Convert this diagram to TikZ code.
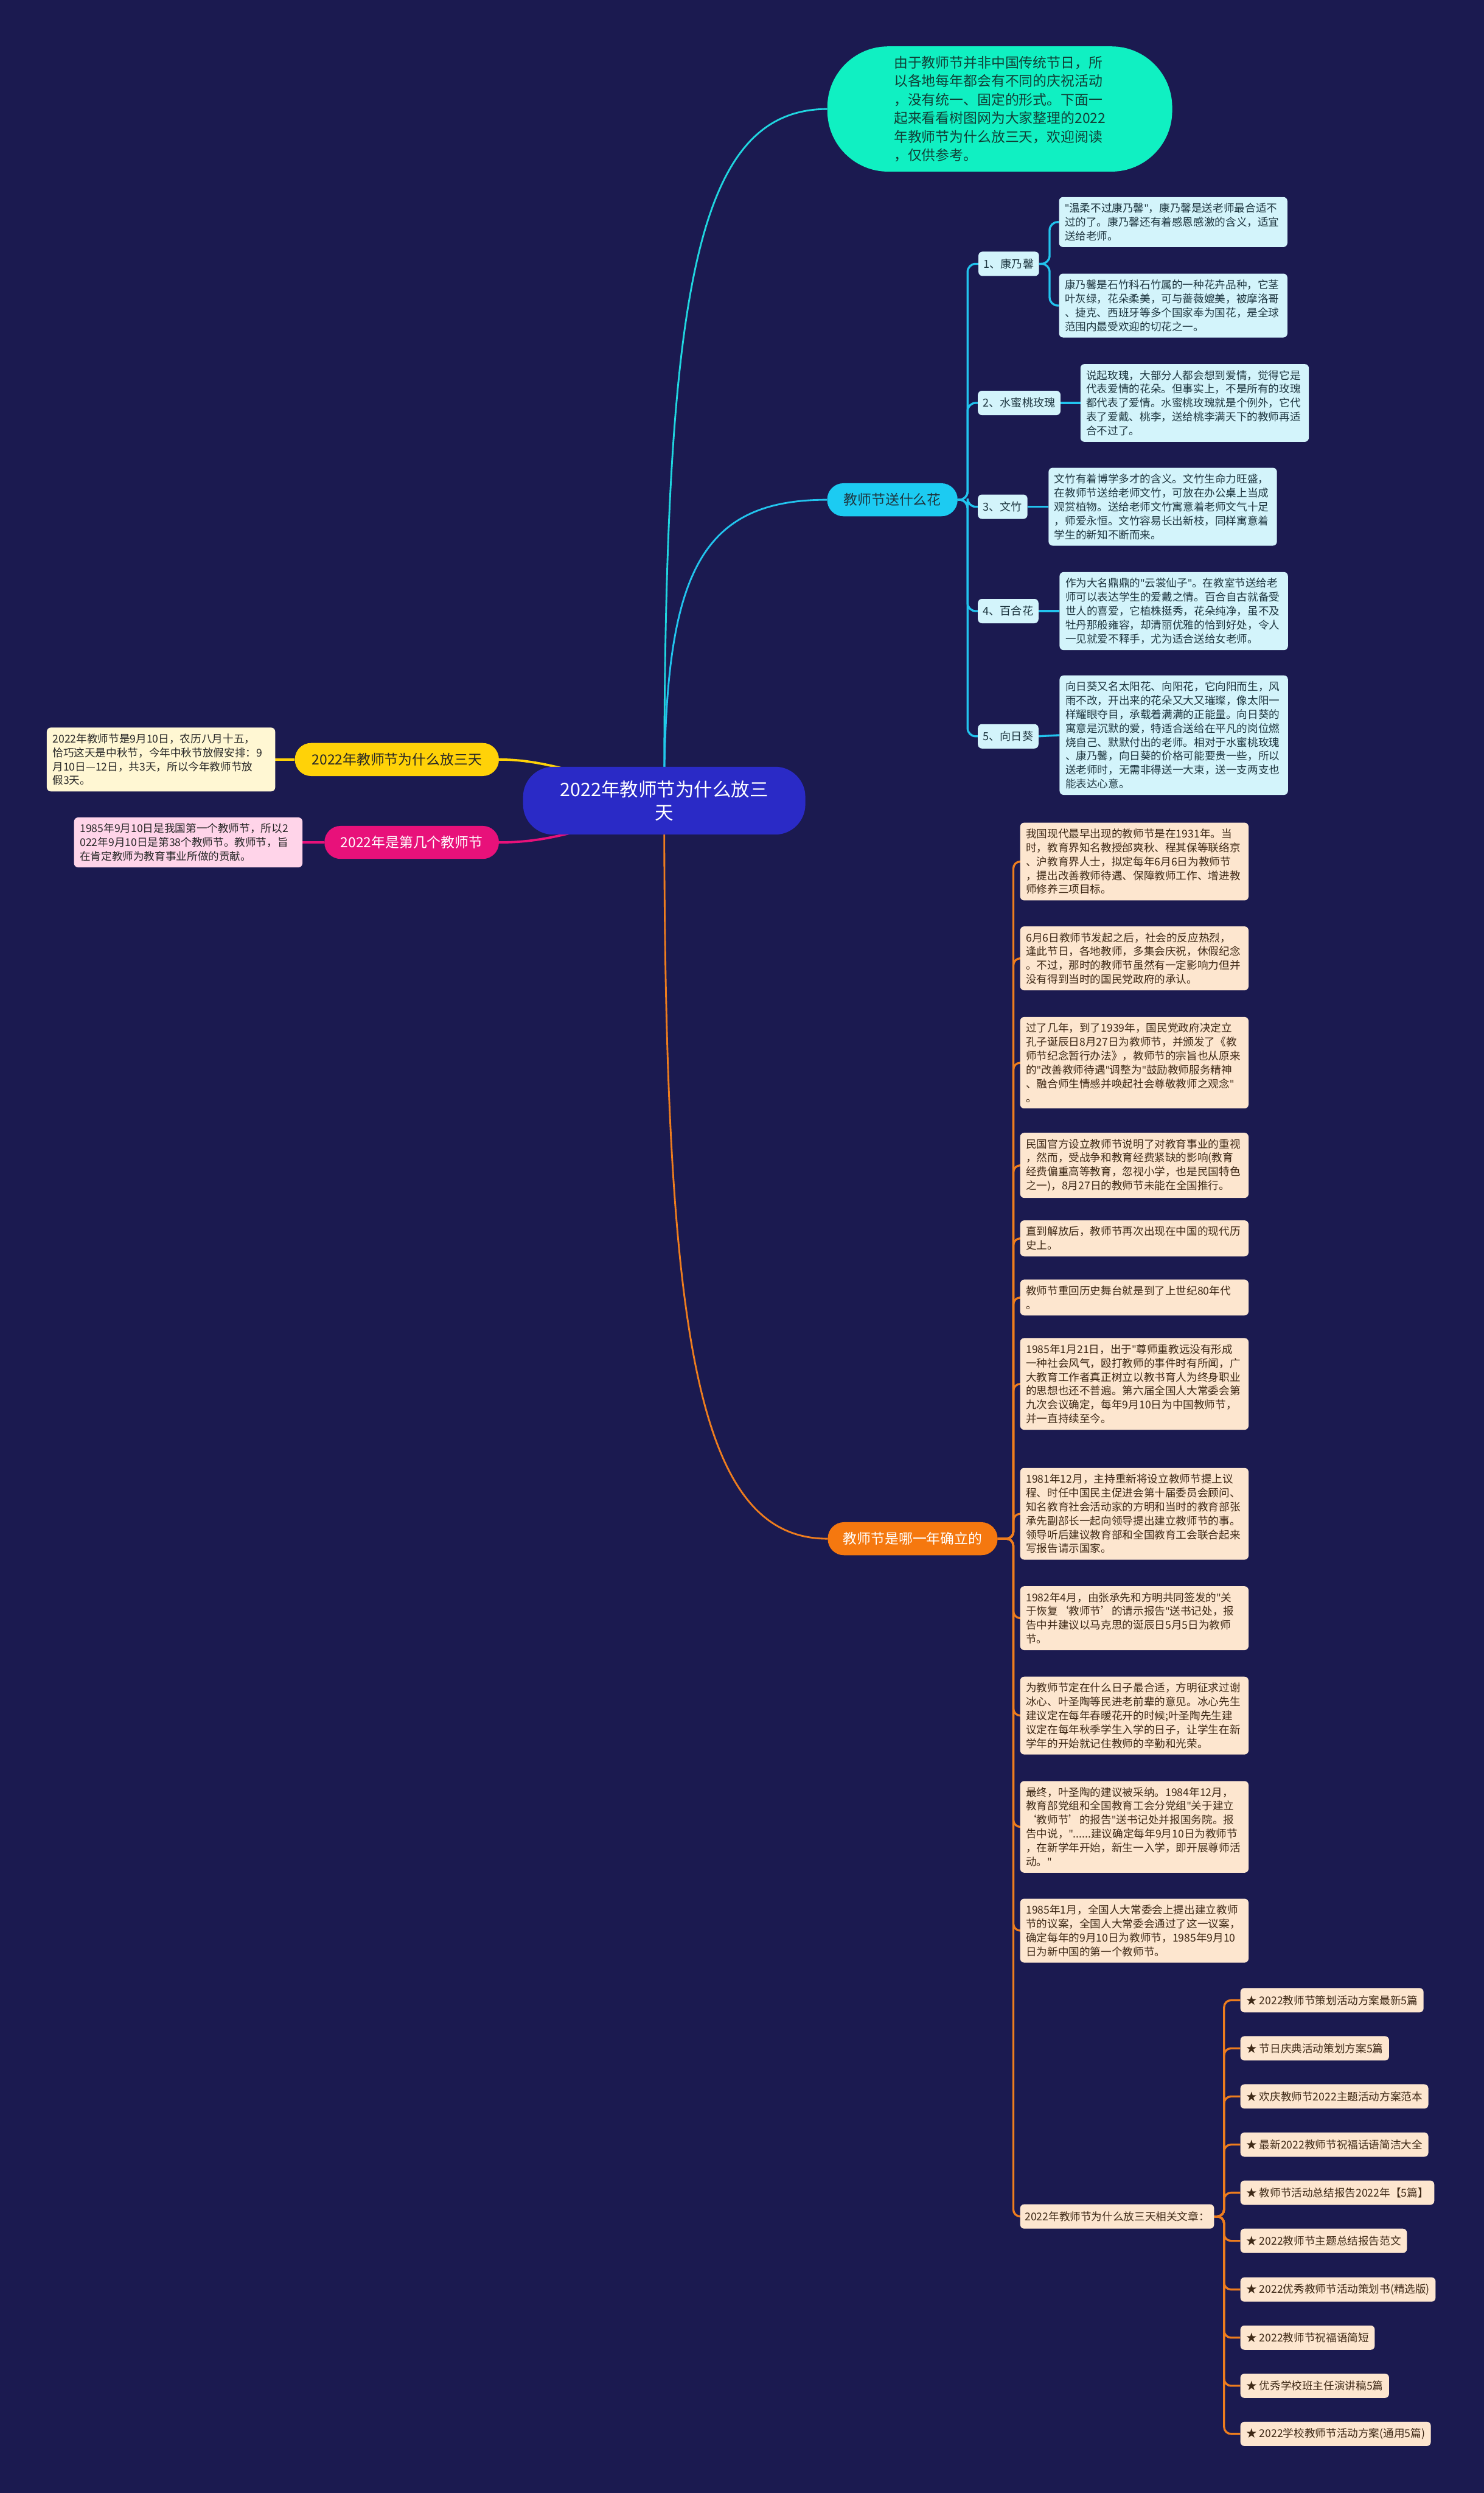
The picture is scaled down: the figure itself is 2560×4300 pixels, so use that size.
\documentclass[tikz,border=0pt]{standalone}
\usepackage{fontspec}
\setmainfont{Noto Sans CJK SC}
\newfontfamily\latf{Noto Sans}
\newcommand\qq{{\latf"}}
\pgfdeclarelayer{back}
\pgfdeclarelayer{edges}
\pgfsetlayers{back,edges,main}
\definecolor{bgc}{HTML}{1B1A50}
\definecolor{rootc}{HTML}{2A2AC6}
\definecolor{bubblec}{HTML}{10F0C2}
\definecolor{bubtext}{HTML}{103F36}
\definecolor{cbrc}{HTML}{1CCBF2}
\definecolor{clinec}{HTML}{22C4EE}
\definecolor{tlinec}{HTML}{20D6E0}
\definecolor{cnotec}{HTML}{D3F4FB}
\definecolor{ctextc}{HTML}{1E3640}
\definecolor{ybrc}{HTML}{FFD208}
\definecolor{ynotec}{HTML}{FFF7D3}
\definecolor{pbrc}{HTML}{E8117A}
\definecolor{pnotec}{HTML}{FFD4E9}
\definecolor{obrc}{HTML}{F5780F}
\definecolor{olinec}{HTML}{EE7D1E}
\definecolor{peachc}{HTML}{FDE6CF}
\definecolor{ptextc}{HTML}{3D2815}
\begin{document}
\begin{tikzpicture}[x=1pt,y=-1pt,
  notebase/.style={rounded corners=7pt, align=left, text width=374pt,
    inner xsep=10pt, inner ysep=10.5pt, font=\fontsize{18.5}{24}\selectfont, anchor=west},
  cnote/.style={notebase, fill=cnotec, text=ctextc},
  pnote/.style={notebase, fill=peachc, text=ptextc},
  ynote/.style={notebase, fill=ynotec, text=black!85},
  pknote/.style={notebase, fill=pnotec, text=black!85},
  sublab/.style={fill=cnotec, text=ctextc, rounded corners=7pt, inner xsep=9pt,
    minimum height=42pt, font=\fontsize{19}{22}\selectfont, anchor=west},
  staritem/.style={fill=peachc, text=ptextc, rounded corners=7pt, inner xsep=10pt,
    minimum height=42pt, font=\fontsize{18.5}{22}\selectfont, anchor=west},
  branch/.style={rounded corners=28pt, minimum height=57pt, inner xsep=0pt,
    font=\fontsize{24}{28}\selectfont},
  cline/.style={draw=clinec, line width=3.5pt},
  oline/.style={draw=olinec, line width=3.5pt},
]
\begin{pgfonlayer}{back}
\fill[bgc] (0,0) rectangle (2560,4300);
\end{pgfonlayer}
\useasboundingbox (0,0) rectangle (2560,4300);

% root
\node[fill=rootc, text=white, rounded corners=52pt, minimum width=487pt, minimum height=117pt,
  align=center, font=\fontsize{32}{40}\selectfont] (root) at (1146,1381) {2022年教师节为什么放三\\天};

% top bubble
\node[fill=bubblec, text=bubtext, rounded corners=105pt, minimum width=595pt, minimum height=216pt,
  align=left, font=\fontsize{24}{32}\selectfont] (bub) at (1725,188)
  {由于教师节并非中国传统节日，所\\以各地每年都会有不同的庆祝活动\\，没有统一、固定的形式。下面一\\起来看看树图网为大家整理的2022\\年教师节为什么放三天，欢迎阅读\\，仅供参考。};

% branches
\node[branch, fill=cbrc, text=ctextc, minimum width=225pt, anchor=west] (flw) at (1427,862) {教师节送什么花};
\node[branch, fill=ybrc, text=black!85, minimum width=352pt, anchor=east] (ybr) at (861,1310) {2022年教师节为什么放三天};
\node[branch, fill=pbrc, text=white, minimum width=301pt, anchor=east] (pbr) at (861,1453) {2022年是第几个教师节};
\node[branch, fill=obrc, text=white, minimum width=293pt, anchor=west] (obr) at (1428,2654) {教师节是哪一年确立的};

% left notes
\node[ynote, anchor=east] (yn) at (475,1310) {2022年教师节是9月10日，农历八月十五，\\恰巧这天是中秋节，今年中秋节放假安排：9\\月10日—12日，共3天，所以今年教师节放\\假3天。};
\node[pknote, anchor=east] (pn) at (522,1453) {1985年9月10日是我国第一个教师节，所以2\\022年9月10日是第38个教师节。教师节，旨\\在肯定教师为教育事业所做的贡献。};

% flower sub labels
\node[sublab] (k1) at (1688,455) {1、康乃馨};
\node[sublab] (k2) at (1687,695) {2、水蜜桃玫瑰};
\node[sublab] (k3) at (1687,874) {3、文竹};
\node[sublab] (k4) at (1687,1054) {4、百合花};
\node[sublab] (k5) at (1687,1270) {5、向日葵};

\node[cnote] (k1a) at (1827,383) {\qq 温柔不过康乃馨\qq ，康乃馨是送老师最合适不\\过的了。康乃馨还有着感恩感激的含义，适宜\\送给老师。};
\node[cnote] (k1b) at (1827,527) {康乃馨是石竹科石竹属的一种花卉品种，它茎\\叶灰绿，花朵柔美，可与蔷薇媲美，被摩洛哥\\、捷克、西班牙等多个国家奉为国花，是全球\\范围内最受欢迎的切花之一。};
\node[cnote] (k2n) at (1864,695) {说起玫瑰，大部分人都会想到爱情，觉得它是\\代表爱情的花朵。但事实上，不是所有的玫瑰\\都代表了爱情。水蜜桃玫瑰就是个例外，它代\\表了爱戴、桃李，送给桃李满天下的教师再适\\合不过了。};
\node[cnote] (k3n) at (1809,874) {文竹有着博学多才的含义。文竹生命力旺盛，\\在教师节送给老师文竹，可放在办公桌上当成\\观赏植物。送给老师文竹寓意着老师文气十足\\，师爱永恒。文竹容易长出新枝，同样寓意着\\学生的新知不断而来。};
\node[cnote] (k4n) at (1828,1054) {作为大名鼎鼎的\qq 云裳仙子\qq 。在教室节送给老\\师可以表达学生的爱戴之情。百合自古就备受\\世人的喜爱，它植株挺秀，花朵纯净，虽不及\\牡丹那般雍容，却清丽优雅的恰到好处，令人\\一见就爱不释手，尤为适合送给女老师。};
\node[cnote] (k5n) at (1828,1268) {向日葵又名太阳花、向阳花，它向阳而生，风\\雨不改，开出来的花朵又大又璀璨，像太阳一\\样耀眼夺目，承载着满满的正能量。向日葵的\\寓意是沉默的爱，特适合送给在平凡的岗位燃\\烧自己、默默付出的老师。相对于水蜜桃玫瑰\\、康乃馨，向日葵的价格可能要贵一些，所以\\送老师时，无需非得送一大束，送一支两支也\\能表达心意。};

% orange notes
\node[pnote] (n1) at (1760,1486) {我国现代最早出现的教师节是在1931年。当\\时，教育界知名教授邰爽秋、程其保等联络京\\、沪教育界人士，拟定每年6月6日为教师节\\，提出改善教师待遇、保障教师工作、增进教\\师修养三项目标。};
\node[pnote] (n2) at (1760,1653) {6月6日教师节发起之后，社会的反应热烈，\\逢此节日，各地教师，多集会庆祝，休假纪念\\。不过，那时的教师节虽然有一定影响力但并\\没有得到当时的国民党政府的承认。};
\node[pnote] (n3) at (1760,1833) {过了几年，到了1939年，国民党政府决定立\\孔子诞辰日8月27日为教师节，并颁发了《教\\师节纪念暂行办法》，教师节的宗旨也从原来\\的\qq 改善教师待遇\qq 调整为\qq 鼓励教师服务精神\\、融合师生情感并唤起社会尊敬教师之观念\qq \\。};
\node[pnote] (n4) at (1760,2010) {民国官方设立教师节说明了对教育事业的重视\\，然而，受战争和教育经费紧缺的影响(教育\\经费偏重高等教育，忽视小学，也是民国特色\\之一)，8月27日的教师节未能在全国推行。};
\node[pnote] (n5) at (1760,2136) {直到解放后，教师节再次出现在中国的现代历\\史上。};
\node[pnote] (n6) at (1760,2238) {教师节重回历史舞台就是到了上世纪80年代\\。};
\node[pnote] (n7) at (1760,2387) {1985年1月21日，出于\qq 尊师重教远没有形成\\一种社会风气，殴打教师的事件时有所闻，广\\大教育工作者真正树立以教书育人为终身职业\\的思想也还不普遍。第六届全国人大常委会第\\九次会议确定，每年9月10日为中国教师节，\\并一直持续至今。};
\node[pnote] (n8) at (1760,2611) {1981年12月，主持重新将设立教师节提上议\\程、时任中国民主促进会第十届委员会顾问、\\知名教育社会活动家的方明和当时的教育部张\\承先副部长一起向领导提出建立教师节的事。\\领导听后建议教育部和全国教育工会联合起来\\写报告请示国家。};
\node[pnote] (n9) at (1760,2791) {1982年4月，由张承先和方明共同签发的\qq 关\\于恢复‘教师节’的请示报告\qq 送书记处，报\\告中并建议以马克思的诞辰日5月5日为教师\\节。};
\node[pnote] (n10) at (1760,2959) {为教师节定在什么日子最合适，方明征求过谢\\冰心、叶圣陶等民进老前辈的意见。冰心先生\\建议定在每年春暖花开的时候;叶圣陶先生建\\议定在每年秋季学生入学的日子，让学生在新\\学年的开始就记住教师的辛勤和光荣。};
\node[pnote] (n11) at (1760,3151) {最终，叶圣陶的建议被采纳。1984年12月，\\教育部党组和全国教育工会分党组\qq 关于建立\\‘教师节’的报告\qq 送书记处并报国务院。报\\告中说，\qq ......建议确定每年9月10日为教师节\\，在新学年开始，新生一入学，即开展尊师活\\动。\qq };
\node[pnote] (n12) at (1760,3330) {1985年1月，全国人大常委会上提出建立教师\\节的议案，全国人大常委会通过了这一议案，\\确定每年的9月10日为教师节，1985年9月10\\日为新中国的第一个教师节。};
\node[staritem, inner xsep=8pt] (rel) at (1760,3823) {2022年教师节为什么放三天相关文章：};

% star items
\node[staritem] (s1) at (2140,3450) {★ 2022教师节策划活动方案最新5篇};
\node[staritem] (s2) at (2140,3533) {★ 节日庆典活动策划方案5篇};
\node[staritem] (s3) at (2140,3616) {★ 欢庆教师节2022主题活动方案范本};
\node[staritem] (s4) at (2140,3699) {★ 最新2022教师节祝福话语简洁大全};
\node[staritem] (s5) at (2140,3782) {★ 教师节活动总结报告2022年【5篇】};
\node[staritem] (s6) at (2140,3865) {★ 2022教师节主题总结报告范文};
\node[staritem] (s7) at (2140,3949) {★ 2022优秀教师节活动策划书(精选版)};
\node[staritem] (s8) at (2140,4032) {★ 2022教师节祝福语简短};
\node[staritem] (s9) at (2140,4115) {★ 优秀学校班主任演讲稿5篇};
\node[staritem] (s10) at (2140,4198) {★ 2022学校教师节活动方案(通用5篇)};

\begin{pgfonlayer}{edges}
% root connectors
\draw[draw=tlinec, line width=3pt] (root.center) .. controls (1146,500) and (1200,189) .. (bub.west);
\draw[cline, line width=3pt] (root.center) .. controls (1146,1000) and (1200,862) .. (flw.west);
\draw[oline, line width=3pt] (root.center) .. controls (1146,2300) and (1200,2654) .. (obr.west);
\draw[draw=ybrc, line width=4pt] (root.center) .. controls (1000,1330) and (930,1310) .. (ybr.east);
\draw[draw=pbrc, line width=4pt] (root.center) .. controls (1000,1440) and (930,1453) .. (pbr.east);
\draw[draw=ybrc, line width=4pt] (ybr.west) -- (yn.east);
\draw[draw=pbrc, line width=4pt] (pbr.west) -- (pn.east);
% flower bracket
\foreach \k in {k1,k2,k3,k4,k5}
  \draw[cline, rounded corners=14pt] (flw.east) -- ++(17,0) |- (\k.west);
\foreach \k in {k1a,k1b}
  \draw[cline, rounded corners=14pt] (k1.east) -- ++(18,0) |- (\k.west);
\draw[cline] (k2.east) -- (k2n.west);
\draw[cline] (k3.east) -- (k3n.west);
\draw[cline] (k4.east) -- (k4n.west);
\draw[cline] (k5.east) -- (k5n.west);
% orange bracket
\foreach \n in {n1,n2,n3,n4,n5,n6,n7,n8,n9,n10,n11,n12,rel}
  \draw[oline, rounded corners=12pt] (obr.east) -- ++(27,0) |- (\n.west);
\foreach \s in {s1,s2,s3,s4,s5,s6,s7,s8,s9,s10}
  \draw[oline, rounded corners=12pt] (rel.east) -- ++(17,0) |- (\s.west);
\end{pgfonlayer}
\end{tikzpicture}
\end{document}
